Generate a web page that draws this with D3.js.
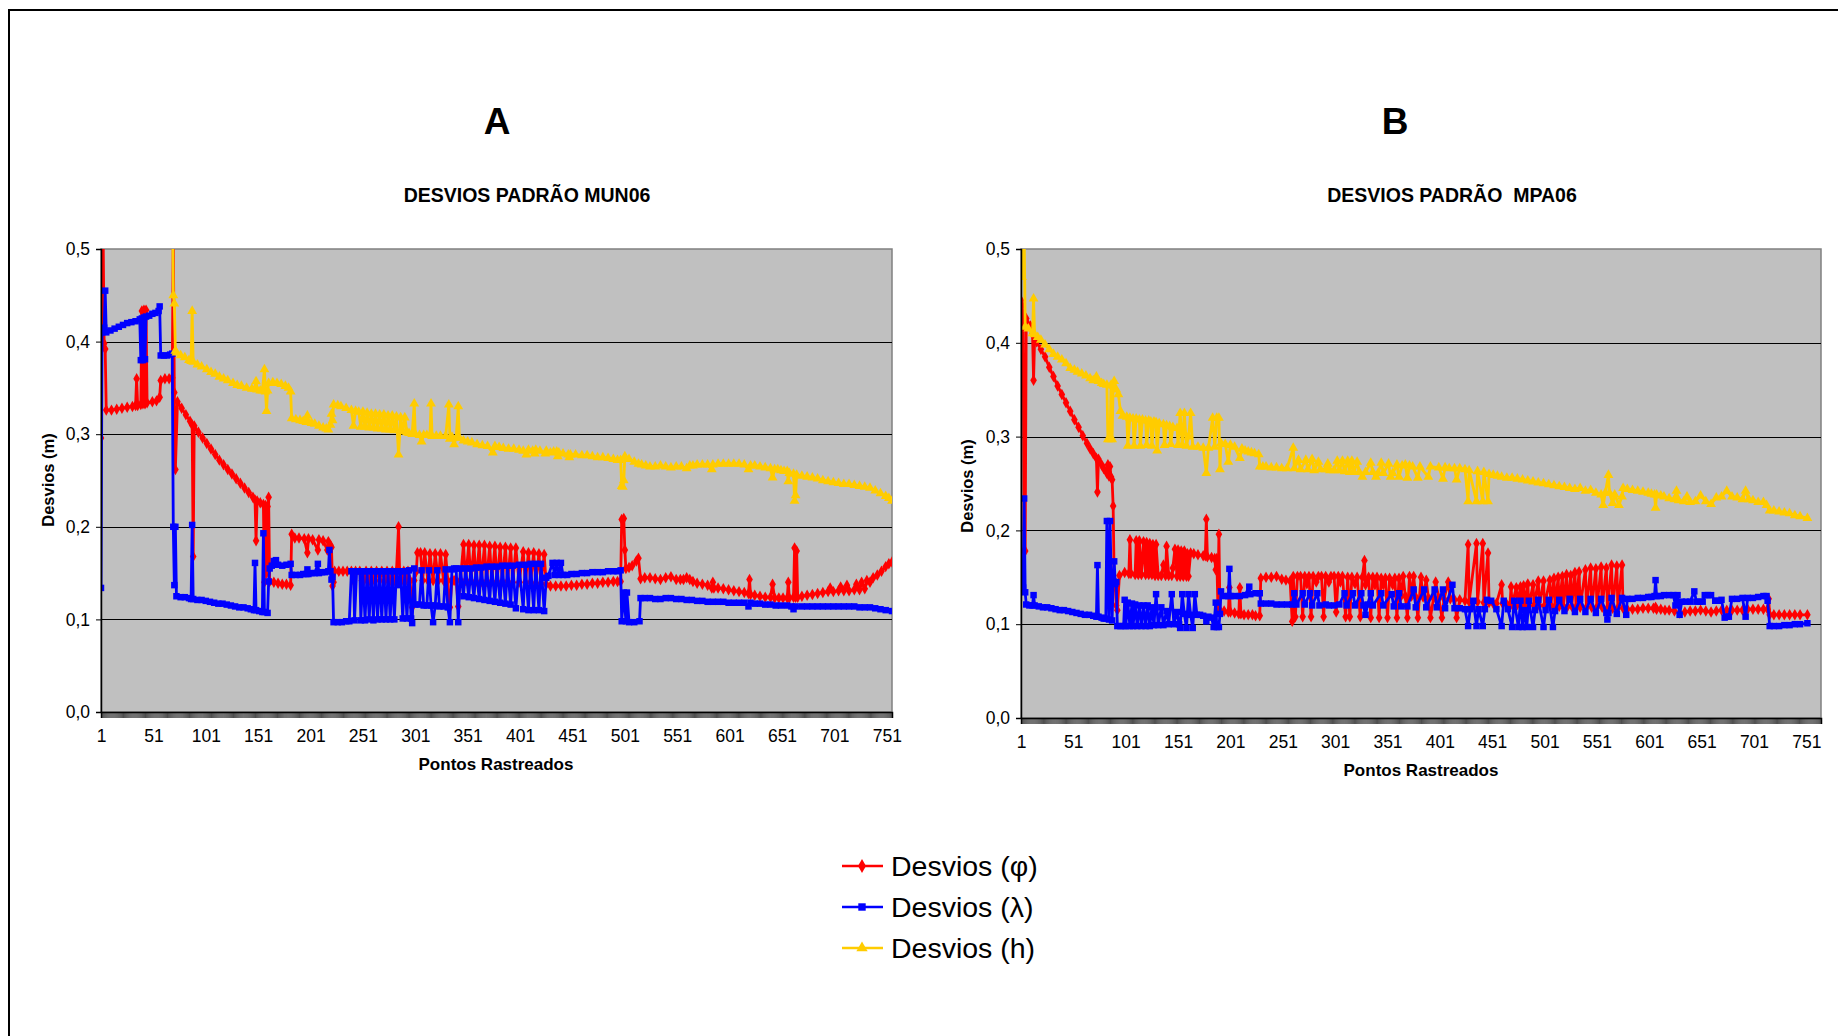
<!DOCTYPE html>
<html>
<head>
<meta charset="utf-8">
<script src="https://cdn.jsdelivr.net/npm/d3@7"></script>
<style>
  body { margin: 0; background: #fff; }
  svg { display: block; font-family: "Liberation Sans", Arial, sans-serif; }
</style>
</head>
<body>
<svg id="chart" width="1838" height="1036"></svg>
<script>
// point index, value (m)
const phiA = [[1,0.296],[2,0.52],[3,0.52],[4,0.398],[5,0.392],[6,0.326],[11,0.326],[16,0.327],[21,0.328],[26,0.329],[31,0.33],[34,0.331],[35,0.36],[36,0.331],[39,0.332],[40,0.433],[41,0.333],[42,0.434],[43,0.333],[44,0.434],[45,0.334],[50,0.335],[54,0.336],[57,0.34],[58,0.358],[62,0.36],[66,0.36],[69,0.361],[70,0.52],[71,0.345],[72,0.262],[74,0.335],[78,0.328],[82,0.321],[86,0.314],[88,0.31],[89,0.168],[90,0.309],[94,0.302],[98,0.296],[102,0.29],[106,0.284],[110,0.278],[114,0.272],[118,0.267],[122,0.262],[126,0.257],[130,0.252],[134,0.247],[138,0.242],[142,0.237],[146,0.232],[148,0.229],[149,0.185],[150,0.228],[153,0.226],[156,0.224],[157,0.14],[158,0.223],[159,0.15],[160,0.222],[161,0.232],[162,0.141],[166,0.14],[170,0.139],[174,0.138],[178,0.138],[182,0.137],[183,0.192],[186,0.188],[190,0.188],[195,0.187],[198,0.172],[199,0.187],[203,0.186],[208,0.175],[209,0.186],[213,0.185],[217,0.175],[218,0.184],[220,0.18],[221,0.178],[222,0.136],[223,0.14],[224,0.152],[228,0.152],[232,0.152],[236,0.152],[240,0.152],[242,0.142],[244,0.152],[248,0.152],[250,0.142],[252,0.142],[254,0.152],[257,0.142],[259,0.152],[262,0.142],[264,0.152],[267,0.142],[269,0.152],[272,0.142],[274,0.152],[277,0.142],[279,0.152],[281,0.142],[283,0.152],[285,0.2],[286,0.152],[288,0.142],[290,0.152],[292,0.142],[294,0.152],[296,0.142],[298,0.113],[300,0.142],[302,0.152],[303,0.172],[306,0.172],[308,0.142],[310,0.172],[313,0.142],[315,0.171],[318,0.142],[320,0.171],[323,0.142],[325,0.171],[328,0.142],[330,0.17],[332,0.142],[334,0.113],[336,0.142],[338,0.142],[340,0.142],[342,0.114],[344,0.142],[347,0.181],[349,0.142],[352,0.181],[354,0.142],[357,0.18],[359,0.141],[362,0.18],[364,0.141],[367,0.18],[369,0.141],[372,0.179],[374,0.141],[377,0.179],[379,0.141],[382,0.178],[384,0.141],[387,0.178],[389,0.141],[392,0.177],[394,0.14],[397,0.177],[400,0.14],[404,0.173],[406,0.14],[409,0.172],[411,0.14],[414,0.172],[416,0.139],[419,0.171],[421,0.139],[424,0.17],[426,0.138],[430,0.136],[435,0.136],[440,0.136],[445,0.136],[450,0.137],[455,0.137],[460,0.138],[465,0.138],[470,0.139],[475,0.139],[480,0.14],[485,0.14],[490,0.141],[494,0.141],[497,0.141],[498,0.208],[500,0.209],[501,0.175],[502,0.155],[505,0.156],[508,0.158],[512,0.163],[514,0.166],[516,0.144],[520,0.145],[525,0.145],[530,0.144],[535,0.143],[540,0.145],[545,0.146],[550,0.143],[554,0.143],[557,0.143],[560,0.145],[563,0.143],[566,0.141],[570,0.139],[575,0.138],[580,0.137],[584,0.134],[585,0.14],[586,0.134],[590,0.134],[595,0.133],[600,0.132],[605,0.131],[610,0.13],[615,0.129],[619,0.128],[620,0.143],[621,0.127],[625,0.126],[630,0.125],[635,0.124],[640,0.124],[642,0.138],[644,0.123],[648,0.123],[652,0.123],[656,0.123],[657,0.14],[658,0.123],[662,0.124],[663,0.177],[664,0.124],[665,0.174],[666,0.124],[670,0.125],[675,0.126],[680,0.127],[685,0.128],[690,0.129],[695,0.13],[697,0.134],[700,0.13],[705,0.131],[707,0.135],[710,0.131],[713,0.137],[715,0.131],[720,0.132],[722,0.138],[725,0.132],[727,0.14],[730,0.133],[732,0.142],[735,0.14],[738,0.145],[742,0.148],[746,0.152],[750,0.157],[753,0.16],[756,0.162]];

const lamA = [[1,0.134],[2,0.41],[3,0.412],[4,0.415],[5,0.455],[6,0.41],[10,0.412],[14,0.414],[18,0.416],[22,0.418],[26,0.42],[30,0.421],[34,0.422],[38,0.424],[39,0.38],[40,0.425],[41,0.38],[42,0.426],[43,0.381],[44,0.427],[47,0.428],[50,0.43],[53,0.431],[56,0.433],[57,0.438],[58,0.385],[61,0.385],[64,0.385],[67,0.386],[69,0.387],[70,0.2],[71,0.137],[72,0.2],[73,0.125],[77,0.124],[81,0.124],[85,0.123],[87,0.122],[88,0.202],[89,0.122],[93,0.121],[97,0.121],[101,0.12],[105,0.119],[109,0.118],[113,0.117],[117,0.117],[121,0.116],[125,0.115],[129,0.114],[133,0.113],[137,0.113],[141,0.112],[144,0.111],[147,0.11],[148,0.161],[149,0.11],[152,0.109],[155,0.108],[156,0.193],[157,0.108],[160,0.107],[161,0.141],[162,0.155],[164,0.158],[166,0.163],[168,0.164],[170,0.159],[174,0.158],[178,0.159],[182,0.16],[183,0.148],[187,0.148],[191,0.148],[194,0.149],[197,0.149],[198,0.154],[199,0.149],[202,0.15],[205,0.15],[208,0.16],[209,0.15],[212,0.151],[215,0.151],[218,0.152],[219,0.175],[220,0.152],[221,0.143],[222,0.146],[223,0.097],[227,0.097],[231,0.097],[235,0.098],[238,0.098],[240,0.152],[242,0.152],[243,0.099],[245,0.152],[248,0.152],[249,0.099],[251,0.152],[253,0.099],[255,0.152],[257,0.1],[259,0.152],[261,0.099],[263,0.152],[265,0.1],[267,0.152],[269,0.1],[271,0.152],[273,0.1],[275,0.152],[277,0.1],[279,0.152],[281,0.1],[283,0.152],[285,0.137],[287,0.152],[289,0.101],[291,0.152],[293,0.101],[295,0.153],[297,0.101],[298,0.096],[300,0.155],[301,0.116],[305,0.116],[307,0.153],[309,0.115],[312,0.115],[314,0.153],[316,0.115],[318,0.097],[320,0.115],[322,0.153],[324,0.114],[328,0.114],[330,0.154],[332,0.113],[334,0.097],[336,0.154],[338,0.155],[340,0.155],[342,0.097],[344,0.155],[347,0.125],[349,0.155],[352,0.124],[354,0.155],[357,0.123],[359,0.156],[362,0.122],[364,0.156],[367,0.121],[369,0.157],[372,0.12],[374,0.157],[377,0.119],[379,0.157],[382,0.118],[384,0.158],[387,0.117],[389,0.158],[392,0.116],[394,0.158],[397,0.112],[400,0.159],[404,0.111],[406,0.159],[409,0.11],[411,0.16],[414,0.11],[416,0.16],[419,0.11],[421,0.16],[424,0.109],[426,0.145],[428,0.147],[432,0.161],[434,0.148],[436,0.161],[438,0.148],[440,0.161],[442,0.148],[446,0.148],[450,0.149],[455,0.149],[460,0.15],[465,0.15],[470,0.151],[475,0.151],[480,0.151],[485,0.152],[490,0.152],[494,0.152],[497,0.153],[498,0.098],[500,0.129],[502,0.098],[503,0.129],[505,0.097],[510,0.097],[515,0.098],[516,0.123],[520,0.123],[525,0.123],[530,0.122],[535,0.122],[540,0.123],[545,0.123],[550,0.122],[555,0.122],[560,0.121],[565,0.121],[570,0.12],[575,0.12],[580,0.119],[585,0.119],[590,0.119],[595,0.119],[600,0.118],[605,0.118],[610,0.118],[615,0.118],[619,0.114],[621,0.118],[625,0.117],[630,0.117],[635,0.116],[640,0.116],[645,0.115],[650,0.115],[656,0.115],[660,0.114],[662,0.111],[664,0.114],[670,0.114],[675,0.114],[680,0.114],[685,0.114],[690,0.114],[695,0.114],[700,0.114],[705,0.114],[710,0.114],[715,0.114],[720,0.114],[725,0.113],[730,0.113],[735,0.113],[740,0.112],[745,0.111],[750,0.11],[756,0.109]];

const hA = [[69,0.6],[70,0.45],[71,0.441],[72,0.39],[73,0.388],[77,0.385],[81,0.383],[85,0.38],[87,0.379],[88,0.433],[89,0.378],[93,0.375],[97,0.373],[102,0.37],[106,0.367],[110,0.365],[114,0.362],[118,0.36],[122,0.358],[127,0.355],[131,0.353],[135,0.352],[140,0.35],[145,0.349],[148,0.349],[149,0.357],[150,0.348],[153,0.347],[155,0.347],[157,0.37],[158,0.346],[159,0.325],[160,0.347],[161,0.355],[165,0.356],[169,0.355],[173,0.354],[177,0.352],[180,0.35],[182,0.346],[183,0.317],[187,0.316],[191,0.315],[194,0.314],[197,0.313],[198,0.32],[199,0.313],[202,0.312],[205,0.311],[209,0.309],[213,0.307],[216,0.306],[218,0.305],[220,0.31],[221,0.322],[222,0.315],[223,0.332],[227,0.331],[230,0.33],[235,0.328],[240,0.326],[242,0.309],[244,0.325],[247,0.324],[249,0.308],[251,0.324],[253,0.308],[255,0.323],[257,0.307],[259,0.322],[261,0.307],[263,0.322],[265,0.306],[267,0.321],[269,0.306],[271,0.321],[273,0.305],[275,0.32],[277,0.305],[279,0.32],[281,0.304],[283,0.319],[285,0.278],[287,0.318],[289,0.303],[291,0.318],[293,0.302],[295,0.301],[298,0.3],[300,0.333],[301,0.3],[305,0.299],[307,0.292],[309,0.299],[312,0.299],[315,0.299],[316,0.333],[317,0.298],[321,0.298],[325,0.298],[330,0.298],[333,0.332],[334,0.295],[336,0.297],[338,0.289],[340,0.296],[342,0.33],[343,0.296],[347,0.293],[351,0.292],[355,0.291],[360,0.289],[365,0.288],[370,0.287],[375,0.28],[377,0.287],[381,0.286],[385,0.285],[390,0.284],[395,0.284],[400,0.283],[404,0.282],[407,0.278],[409,0.283],[413,0.282],[415,0.279],[416,0.283],[420,0.282],[425,0.279],[426,0.282],[430,0.28],[433,0.281],[436,0.281],[437,0.276],[438,0.28],[442,0.279],[447,0.278],[448,0.275],[449,0.278],[454,0.278],[460,0.277],[465,0.277],[470,0.276],[475,0.275],[480,0.275],[485,0.274],[490,0.273],[494,0.272],[497,0.272],[498,0.244],[499,0.243],[500,0.25],[501,0.276],[505,0.273],[510,0.27],[514,0.268],[517,0.267],[521,0.266],[525,0.265],[530,0.265],[535,0.266],[540,0.265],[545,0.264],[550,0.265],[555,0.265],[560,0.263],[563,0.266],[566,0.266],[570,0.267],[575,0.267],[580,0.267],[584,0.262],[585,0.267],[590,0.268],[595,0.268],[600,0.268],[605,0.268],[610,0.268],[615,0.267],[619,0.262],[621,0.266],[625,0.266],[630,0.265],[635,0.264],[640,0.263],[642,0.253],[644,0.262],[647,0.262],[650,0.261],[653,0.26],[656,0.26],[657,0.249],[658,0.258],[662,0.257],[663,0.228],[664,0.234],[665,0.256],[670,0.255],[675,0.254],[680,0.253],[685,0.252],[690,0.25],[695,0.249],[700,0.248],[705,0.247],[710,0.246],[715,0.246],[720,0.245],[725,0.244],[730,0.243],[735,0.242],[740,0.239],[745,0.236],[750,0.233],[753,0.231],[756,0.228]];

const phiB = [[1,0.445],[2,0.44],[3,0.43],[4,0.178],[5,0.178],[6,0.426],[10,0.418],[12,0.41],[13,0.36],[14,0.405],[16,0.401],[20,0.393],[24,0.385],[28,0.374],[32,0.364],[36,0.354],[40,0.345],[44,0.336],[48,0.327],[52,0.318],[56,0.31],[60,0.301],[64,0.293],[67,0.287],[70,0.282],[73,0.277],[74,0.241],[75,0.276],[78,0.27],[80,0.266],[83,0.261],[84,0.27],[85,0.258],[86,0.268],[87,0.257],[88,0.254],[89,0.226],[90,0.147],[91,0.14],[92,0.12],[93,0.115],[95,0.152],[100,0.155],[104,0.154],[105,0.19],[106,0.154],[110,0.153],[111,0.189],[113,0.153],[114,0.189],[116,0.153],[118,0.188],[120,0.153],[121,0.187],[123,0.153],[124,0.186],[126,0.153],[127,0.185],[129,0.152],[130,0.185],[132,0.152],[135,0.152],[137,0.163],[139,0.152],[140,0.183],[142,0.152],[145,0.152],[146,0.16],[148,0.18],[150,0.151],[151,0.179],[153,0.151],[154,0.178],[156,0.151],[157,0.178],[159,0.151],[160,0.175],[161,0.151],[163,0.176],[166,0.175],[170,0.174],[175,0.173],[177,0.173],[178,0.212],[179,0.172],[183,0.171],[186,0.17],[187,0.158],[188,0.17],[189,0.12],[190,0.196],[191,0.115],[195,0.114],[199,0.113],[200,0.139],[201,0.113],[205,0.112],[209,0.111],[210,0.139],[211,0.111],[214,0.11],[218,0.11],[222,0.11],[225,0.109],[229,0.109],[230,0.149],[235,0.15],[240,0.15],[245,0.151],[250,0.148],[254,0.147],[258,0.146],[260,0.103],[261,0.151],[263,0.108],[265,0.151],[268,0.151],[270,0.108],[272,0.151],[274,0.143],[276,0.151],[278,0.108],[280,0.151],[283,0.145],[285,0.151],[288,0.151],[290,0.108],[292,0.151],[295,0.145],[297,0.151],[300,0.151],[302,0.113],[304,0.151],[306,0.145],[308,0.151],[311,0.108],[313,0.15],[315,0.108],[317,0.15],[320,0.143],[322,0.15],[325,0.108],[327,0.15],[329,0.168],[330,0.142],[333,0.15],[335,0.107],[337,0.15],[339,0.142],[341,0.15],[343,0.107],[345,0.149],[347,0.142],[349,0.149],[351,0.107],[353,0.149],[356,0.142],[358,0.149],[360,0.107],[362,0.149],[364,0.13],[366,0.151],[368,0.13],[370,0.107],[372,0.151],[374,0.13],[376,0.151],[378,0.129],[380,0.107],[383,0.15],[385,0.129],[388,0.147],[390,0.128],[392,0.107],[395,0.128],[397,0.145],[400,0.128],[403,0.107],[405,0.127],[409,0.145],[411,0.127],[415,0.126],[417,0.107],[420,0.126],[425,0.125],[428,0.185],[429,0.124],[436,0.186],[437,0.124],[442,0.186],[443,0.123],[447,0.176],[448,0.123],[452,0.122],[455,0.122],[460,0.142],[461,0.122],[465,0.121],[468,0.121],[469,0.14],[470,0.121],[474,0.139],[475,0.121],[478,0.14],[479,0.121],[481,0.141],[482,0.12],[485,0.143],[486,0.12],[490,0.142],[491,0.12],[495,0.146],[496,0.12],[500,0.146],[501,0.12],[506,0.147],[507,0.12],[510,0.149],[511,0.119],[514,0.15],[515,0.119],[518,0.151],[519,0.119],[522,0.153],[523,0.119],[526,0.152],[527,0.119],[530,0.155],[531,0.118],[534,0.156],[535,0.118],[540,0.158],[541,0.118],[545,0.16],[546,0.118],[550,0.159],[551,0.118],[555,0.161],[556,0.118],[560,0.16],[561,0.117],[565,0.163],[566,0.117],[570,0.162],[571,0.117],[575,0.163],[576,0.117],[580,0.116],[585,0.116],[590,0.116],[595,0.117],[600,0.117],[605,0.117],[607,0.118],[608,0.116],[612,0.116],[616,0.115],[620,0.115],[625,0.114],[630,0.112],[635,0.113],[640,0.114],[645,0.114],[650,0.115],[655,0.114],[660,0.113],[665,0.114],[670,0.115],[675,0.115],[680,0.115],[685,0.115],[690,0.115],[695,0.116],[700,0.116],[705,0.116],[710,0.116],[714,0.116],[715,0.127],[716,0.11],[720,0.11],[725,0.11],[730,0.11],[735,0.11],[740,0.11],[745,0.11],[752,0.11]];

const lamB = [[1,0.145],[2,0.14],[3,0.139],[4,0.234],[5,0.134],[6,0.121],[9,0.12],[12,0.12],[13,0.131],[14,0.12],[18,0.119],[22,0.118],[26,0.118],[30,0.117],[34,0.116],[38,0.115],[42,0.115],[46,0.114],[50,0.113],[54,0.112],[58,0.111],[62,0.11],[66,0.11],[70,0.109],[73,0.108],[74,0.163],[75,0.108],[78,0.107],[80,0.106],[82,0.106],[83,0.21],[85,0.105],[86,0.21],[88,0.104],[89,0.143],[90,0.167],[91,0.143],[92,0.145],[93,0.098],[96,0.098],[99,0.098],[100,0.126],[101,0.098],[103,0.123],[105,0.098],[107,0.122],[108,0.098],[110,0.121],[112,0.098],[114,0.12],[116,0.098],[118,0.12],[120,0.098],[122,0.12],[124,0.098],[126,0.118],[128,0.099],[130,0.132],[132,0.099],[135,0.118],[137,0.099],[140,0.114],[142,0.1],[145,0.132],[147,0.1],[150,0.113],[152,0.1],[153,0.096],[155,0.132],[157,0.111],[159,0.096],[161,0.132],[163,0.11],[165,0.096],[167,0.132],[169,0.11],[172,0.11],[175,0.109],[178,0.103],[180,0.108],[183,0.107],[185,0.097],[187,0.123],[188,0.097],[190,0.097],[191,0.111],[192,0.135],[195,0.13],[199,0.13],[200,0.159],[201,0.13],[205,0.13],[210,0.13],[215,0.131],[219,0.14],[220,0.132],[225,0.133],[229,0.133],[230,0.122],[235,0.122],[240,0.122],[245,0.121],[250,0.121],[255,0.121],[260,0.121],[262,0.133],[264,0.121],[270,0.133],[272,0.121],[277,0.133],[279,0.12],[284,0.133],[286,0.12],[292,0.121],[295,0.12],[300,0.12],[305,0.121],[310,0.133],[312,0.12],[318,0.133],[320,0.12],[326,0.133],[328,0.12],[330,0.11],[332,0.121],[335,0.133],[337,0.12],[345,0.133],[347,0.12],[355,0.132],[357,0.119],[362,0.133],[364,0.119],[370,0.119],[376,0.137],[378,0.118],[386,0.137],[388,0.118],[396,0.137],[398,0.118],[404,0.137],[406,0.117],[413,0.142],[415,0.117],[420,0.117],[425,0.116],[428,0.098],[430,0.116],[433,0.125],[436,0.098],[438,0.116],[442,0.098],[444,0.116],[446,0.126],[450,0.125],[455,0.116],[460,0.098],[462,0.125],[466,0.116],[470,0.097],[472,0.125],[476,0.097],[478,0.125],[480,0.097],[482,0.115],[484,0.097],[486,0.125],[490,0.097],[492,0.115],[495,0.126],[500,0.097],[502,0.115],[505,0.126],[509,0.097],[511,0.114],[515,0.126],[520,0.114],[525,0.127],[530,0.113],[535,0.127],[540,0.113],[545,0.127],[550,0.112],[555,0.127],[560,0.112],[561,0.105],[562,0.112],[565,0.128],[570,0.111],[575,0.128],[579,0.11],[580,0.127],[585,0.127],[590,0.128],[595,0.128],[600,0.129],[603,0.129],[606,0.13],[607,0.147],[608,0.13],[612,0.13],[615,0.131],[620,0.131],[624,0.131],[626,0.12],[628,0.131],[630,0.11],[632,0.124],[636,0.124],[640,0.124],[644,0.135],[646,0.124],[649,0.124],[652,0.124],[654,0.131],[657,0.131],[660,0.131],[664,0.125],[667,0.125],[670,0.126],[673,0.107],[675,0.108],[677,0.108],[680,0.127],[685,0.127],[690,0.128],[693,0.108],[695,0.128],[700,0.128],[705,0.129],[710,0.13],[713,0.13],[714,0.125],[716,0.098],[720,0.098],[725,0.098],[730,0.099],[735,0.099],[740,0.1],[745,0.1],[752,0.101]];

const hB = [[1,0.6],[2,0.47],[3,0.52],[4,0.52],[5,0.417],[8,0.415],[12,0.41],[13,0.447],[14,0.409],[17,0.406],[20,0.403],[24,0.398],[28,0.393],[32,0.388],[36,0.385],[40,0.382],[44,0.378],[48,0.373],[52,0.371],[55,0.369],[59,0.367],[63,0.365],[67,0.362],[70,0.36],[73,0.364],[75,0.359],[78,0.357],[80,0.356],[83,0.355],[84,0.297],[86,0.297],[87,0.355],[88,0.297],[89,0.354],[90,0.359],[92,0.35],[94,0.345],[96,0.327],[98,0.322],[102,0.321],[103,0.29],[105,0.32],[108,0.319],[109,0.29],[111,0.319],[114,0.318],[115,0.29],[117,0.318],[120,0.317],[121,0.291],[123,0.317],[125,0.316],[126,0.29],[128,0.316],[130,0.315],[131,0.285],[133,0.314],[137,0.313],[138,0.291],[140,0.312],[143,0.311],[144,0.292],[146,0.31],[150,0.309],[151,0.291],[153,0.325],[155,0.291],[157,0.325],[159,0.29],[161,0.3],[163,0.325],[165,0.289],[170,0.289],[175,0.288],[178,0.261],[180,0.288],[184,0.32],[186,0.289],[188,0.32],[190,0.32],[191,0.265],[192,0.293],[196,0.292],[199,0.273],[201,0.291],[205,0.289],[210,0.277],[212,0.287],[215,0.285],[218,0.284],[221,0.283],[224,0.282],[228,0.281],[229,0.268],[232,0.268],[235,0.268],[240,0.267],[245,0.267],[250,0.266],[255,0.266],[261,0.288],[262,0.266],[266,0.275],[268,0.265],[273,0.275],[275,0.265],[279,0.276],[281,0.264],[285,0.273],[287,0.265],[292,0.265],[294,0.271],[296,0.264],[300,0.264],[303,0.274],[305,0.264],[308,0.274],[310,0.263],[313,0.274],[315,0.262],[317,0.274],[319,0.262],[322,0.273],[324,0.262],[327,0.257],[330,0.262],[335,0.272],[337,0.262],[340,0.257],[342,0.261],[345,0.272],[347,0.261],[352,0.271],[354,0.257],[356,0.261],[360,0.27],[362,0.257],[365,0.269],[368,0.27],[370,0.256],[372,0.269],[375,0.268],[380,0.256],[382,0.268],[390,0.257],[392,0.268],[400,0.267],[404,0.255],[406,0.267],[410,0.266],[415,0.266],[417,0.254],[420,0.266],[425,0.265],[428,0.231],[429,0.264],[436,0.231],[437,0.263],[442,0.231],[443,0.262],[447,0.231],[448,0.26],[452,0.259],[456,0.258],[460,0.257],[465,0.256],[470,0.256],[475,0.255],[480,0.254],[485,0.253],[490,0.252],[495,0.251],[500,0.25],[505,0.249],[510,0.248],[515,0.247],[520,0.246],[525,0.245],[530,0.244],[535,0.245],[540,0.242],[545,0.243],[550,0.24],[555,0.238],[557,0.227],[559,0.24],[562,0.259],[563,0.24],[566,0.229],[568,0.238],[572,0.227],[575,0.236],[576,0.245],[580,0.244],[585,0.243],[590,0.242],[595,0.241],[600,0.24],[603,0.239],[606,0.238],[607,0.224],[608,0.238],[612,0.237],[615,0.236],[620,0.234],[625,0.233],[627,0.242],[629,0.232],[634,0.231],[637,0.236],[640,0.23],[645,0.231],[650,0.237],[655,0.231],[660,0.228],[665,0.235],[670,0.236],[675,0.242],[680,0.236],[685,0.235],[690,0.233],[693,0.242],[696,0.233],[700,0.232],[705,0.23],[710,0.23],[713,0.227],[716,0.221],[720,0.221],[725,0.22],[730,0.219],[735,0.218],[740,0.216],[745,0.215],[752,0.213]];

const yTicks = [0, 0.1, 0.2, 0.3, 0.4, 0.5];
const seriesNames = ['Desvios (φ)', 'Desvios (λ)', 'Desvios (h)'];
const seriesColors = ['#ff0000', '#0000ff', '#ffcc00'];
const seriesSymbols = [d3.symbolDiamond, d3.symbolSquare, d3.symbolTriangle];

const svg = d3.select('#chart');

// outer frame (runs off the right and bottom of the page)
svg.append('rect')
  .attr('x', 9).attr('y', 10)
  .attr('width', 1900).attr('height', 1100)
  .attr('fill', 'none').attr('stroke', '#000').attr('stroke-width', 2);

function drawPanel(p) {
  const g = svg.append('g');
  const x = d3.scaleLinear().domain([1, p.n]).range([p.left, p.right]);
  const y = d3.scaleLinear().domain([0, 0.5]).range([p.bottom, p.top]);

  g.append('rect')
    .attr('x', p.left).attr('y', p.top)
    .attr('width', p.right - p.left).attr('height', p.bottom - p.top)
    .attr('fill', '#c0c0c0').attr('stroke', '#808080').attr('stroke-width', 1.5);

  g.selectAll('.grid').data(yTicks.slice(1, 5)).enter().append('line')
    .attr('x1', p.left).attr('x2', p.right)
    .attr('y1', d => Math.round(y(d)) + 0.5).attr('y2', d => Math.round(y(d)) + 0.5)
    .attr('stroke', '#000').attr('stroke-width', 1);

  const clipId = 'clip-' + p.id;
  svg.append('clipPath').attr('id', clipId).append('rect')
    .attr('x', p.left).attr('y', p.top)
    .attr('width', p.right - p.left).attr('height', p.bottom - p.top);

  const line = d3.line().x(d => x(d[0])).y(d => y(d[1]));
  const plot = g.append('g').attr('clip-path', 'url(#' + clipId + ')');
  p.series.forEach((s, k) => {
    plot.append('path').attr('d', line(s))
      .attr('fill', 'none').attr('stroke', seriesColors[k])
      .attr('stroke-width', 2.8).attr('stroke-linejoin', 'round');
    plot.selectAll('.m' + k).data(s).enter().append('path')
      .attr('d', d3.symbol(seriesSymbols[k], k === 0 ? 38 : 42))
      .attr('transform', d => 'translate(' + x(d[0]) + ',' + y(d[1]) + ')')
      .attr('fill', seriesColors[k]);
  });

  const yAxis = d3.axisLeft(y).tickValues(yTicks).tickSize(5).tickPadding(6)
    .tickFormat(d => d3.format('.1f')(d).replace('.', ','));
  g.append('g').attr('transform', 'translate(' + p.left + ',0)').call(yAxis)
    .call(a => a.select('.domain').attr('stroke', '#000').attr('stroke-width', 1.5))
    .call(a => a.selectAll('text').attr('font-size', 17.5).attr('fill', '#000')
      .attr('font-family', '"Liberation Sans", Arial, sans-serif'));

  const xAxis = d3.axisBottom(x).tickValues(d3.range(1, p.n + 1)).tickSize(6).tickPadding(12)
    .tickFormat(i => (i - 1) % 50 === 0 && i <= 751 ? String(i) : '');
  g.append('g').attr('transform', 'translate(0,' + p.bottom + ')').call(xAxis)
    .call(a => a.select('.domain').attr('stroke', '#000').attr('stroke-width', 1.5))
    .call(a => a.selectAll('.tick line').attr('stroke', '#000').attr('stroke-width', 0.7))
    .call(a => a.selectAll('text').attr('font-size', 17.5).attr('fill', '#000')
      .attr('font-family', '"Liberation Sans", Arial, sans-serif'));

  g.append('text').attr('x', p.letterX).attr('y', 121)
    .attr('text-anchor', 'middle').attr('dominant-baseline', 'central')
    .attr('font-size', 37).attr('font-weight', 'bold').text(p.letter);
  g.append('text').attr('x', p.titleX).attr('y', 195)
    .attr('text-anchor', 'middle').attr('dominant-baseline', 'central')
    .attr('font-size', 19.5).attr('font-weight', 'bold')
    .attr('xml:space', 'preserve').style('white-space', 'pre').text(p.title);
  g.append('text').attr('x', p.xTitleX).attr('y', p.xTitleY)
    .attr('text-anchor', 'middle').attr('dominant-baseline', 'central')
    .attr('font-size', 17).attr('font-weight', 'bold').text('Pontos Rastreados');
  g.append('text')
    .attr('transform', 'translate(' + p.yTitleX + ',' + p.yTitleY + ') rotate(-90)')
    .attr('text-anchor', 'middle').attr('dominant-baseline', 'central')
    .attr('font-size', 16.5).attr('font-weight', 'bold').text('Desvios (m)');
}

drawPanel({
  id: 'a', left: 101, right: 892, top: 249, bottom: 712, n: 756,
  series: [phiA, lamA, hA], letter: 'A', letterX: 497,
  title: 'DESVIOS PADRÃO MUN06', titleX: 527,
  xTitleX: 496, xTitleY: 764, yTitleX: 48, yTitleY: 480
});
drawPanel({
  id: 'b', left: 1021, right: 1821, top: 249, bottom: 718, n: 765,
  series: [phiB, lamB, hB], letter: 'B', letterX: 1395,
  title: 'DESVIOS PADRÃO  MPA06', titleX: 1452,
  xTitleX: 1421, xTitleY: 770, yTitleX: 967, yTitleY: 486
});

// legend
const legend = svg.append('g');
seriesNames.forEach((name, k) => {
  const cy = 866 + k * 41;
  legend.append('line').attr('x1', 842).attr('x2', 883).attr('y1', cy).attr('y2', cy)
    .attr('stroke', seriesColors[k]).attr('stroke-width', 2.6);
  legend.append('path').attr('d', d3.symbol(seriesSymbols[k], 55))
    .attr('transform', 'translate(862,' + cy + ')').attr('fill', seriesColors[k]);
  legend.append('text').attr('x', 891).attr('y', cy)
    .attr('dominant-baseline', 'central').attr('font-size', 28.5).text(name);
});
</script>
</body>
</html>
